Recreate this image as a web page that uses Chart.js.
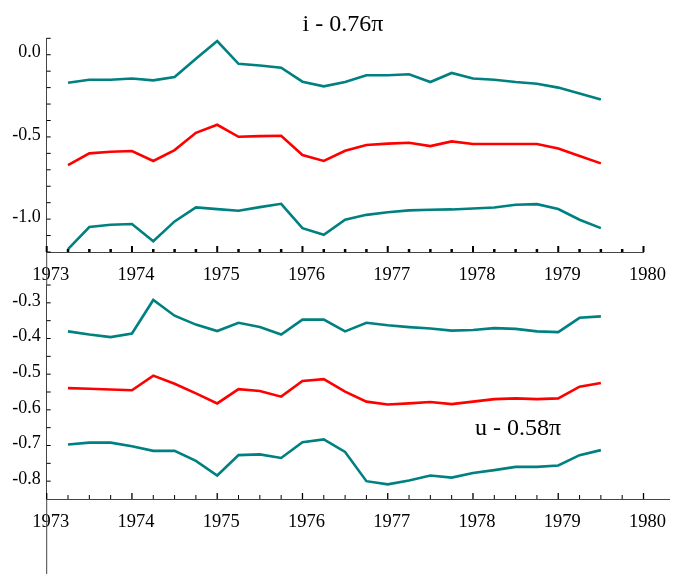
<!DOCTYPE html>
<html>
<head>
<meta charset="utf-8">
<script src="https://cdn.jsdelivr.net/npm/chart.js@4"></script>
<style>
body{margin:0;background:#fff;}
#wrap{position:relative;width:674px;height:574px;}
canvas{position:absolute;left:0;top:0;}
</style>
</head>
<body>
<div id="wrap">
<canvas id="topChart" width="674" height="574"></canvas>
<canvas id="bottomChart" width="674" height="574"></canvas>
</div>
<script>
// quarterly dates
const quarters = [1973.25, 1973.5, 1973.75, 1974, 1974.25, 1974.5, 1974.75, 1975, 1975.25, 1975.5, 1975.75,
    1976, 1976.25, 1976.5, 1976.75, 1977, 1977.25, 1977.5, 1977.75, 1978, 1978.25, 1978.5, 1978.75,
    1979, 1979.25, 1979.5];

// i - 0.76 pi panel
const iUpper = [-0.170, -0.152, -0.152, -0.145, -0.156, -0.135, -0.024, 0.083, -0.055, -0.065, -0.079,
    -0.164, -0.192, -0.166, -0.125, -0.125, -0.119, -0.166, -0.111, -0.145, -0.152, -0.166, -0.176,
    -0.200, -0.236, -0.273];
const iMid = [-0.671, -0.600, -0.590, -0.586, -0.646, -0.580, -0.475, -0.426, -0.499, -0.495, -0.493,
    -0.610, -0.646, -0.584, -0.549, -0.541, -0.535, -0.556, -0.527, -0.543, -0.543, -0.543, -0.543,
    -0.570, -0.616, -0.661];
const iLower = [-1.182, -1.048, -1.034, -1.030, -1.135, -1.014, -0.929, -0.939, -0.949, -0.927, -0.907,
    -1.055, -1.095, -1.004, -0.974, -0.958, -0.947, -0.943, -0.941, -0.935, -0.929, -0.913, -0.909,
    -0.939, -1.004, -1.055];

// u - 0.58 pi panel
const uUpper = [-0.380, -0.389, -0.396, -0.386, -0.292, -0.336, -0.361, -0.379, -0.356, -0.368, -0.389,
    -0.347, -0.347, -0.380, -0.356, -0.363, -0.368, -0.372, -0.378, -0.376, -0.371, -0.373, -0.380,
    -0.382, -0.342, -0.338];
const uMid = [-0.539, -0.541, -0.543, -0.545, -0.504, -0.527, -0.554, -0.582, -0.542, -0.547, -0.563,
    -0.519, -0.514, -0.549, -0.577, -0.585, -0.582, -0.578, -0.584, -0.577, -0.570, -0.568, -0.570,
    -0.568, -0.535, -0.525];
const uLower = [-0.697, -0.692, -0.692, -0.702, -0.715, -0.715, -0.743, -0.784, -0.727, -0.725, -0.735,
    -0.691, -0.683, -0.718, -0.800, -0.809, -0.798, -0.784, -0.790, -0.777, -0.769, -0.760, -0.760,
    -0.756, -0.727, -0.713];

const yearTicks = [1973, 1974, 1975, 1976, 1977, 1978, 1979, 1980];
const iTicks = [-1.0, -0.5, 0.0];
const uTicks = [-0.8, -0.7, -0.6, -0.5, -0.4, -0.3];

const teal = '#008080';
const red = '#ff0000';
const serif = 'Liberation Serif';

function series(values, color){
    return {
        data: values.map((v, i) => ({x: quarters[i], y: v})),
        borderColor: color,
        borderWidth: 2.6,
        pointRadius: 0,
        tension: 0,
        fill: false
    };
}

// ticks pointing into the plot, plus the long vertical axis line and the panel label
const innerTicks = {
    id: 'innerTicks',
    afterDraw(chart, args, opts){
        const ctx = chart.ctx;
        const xs = chart.scales.x, ys = chart.scales.y;
        const a = chart.chartArea;
        ctx.save();
        ctx.strokeStyle = '#000';
        for(let k = 0; k <= 28; k++){
            const q = 1973 + k * 0.25;
            const px = xs.getPixelForValue(q);
            const major = k % 4 == 0;
            ctx.lineWidth = major ? opts.xMajorWidth : opts.xMinorWidth;
            ctx.beginPath();
            ctx.moveTo(px, a.bottom);
            ctx.lineTo(px, a.bottom - (major ? opts.xMajorLen : opts.xMinorLen));
            ctx.stroke();
        }
        ctx.lineWidth = 1;
        for(let k = opts.yFrom; k <= opts.yTo; k++){
            const py = ys.getPixelForValue(k / opts.yDiv);
            ctx.beginPath();
            ctx.moveTo(a.left, py);
            ctx.lineTo(a.left + 4, py);
            ctx.stroke();
        }
        // y axis line carried on below the x axis
        ctx.strokeStyle = '#444';
        ctx.beginPath();
        ctx.moveTo(a.left, a.bottom);
        ctx.lineTo(a.left, opts.toCanvasEnd ? chart.height : xs.bottom);
        ctx.stroke();

        ctx.fillStyle = '#000';
        ctx.font = '24px "' + serif + '"';
        ctx.textAlign = 'center';
        ctx.textBaseline = 'middle';
        ctx.fillText(opts.label, opts.labelX, opts.labelY);
        ctx.restore();
    }
};

function makeChart(id, datasets, xMax, yMin, yMax, yTickList, padding, xHeight, tickOpts){
    return new Chart(document.getElementById(id), {
        type: 'line',
        data: {datasets: datasets},
        plugins: [innerTicks],
        options: {
            responsive: false,
            animation: false,
            layout: {padding: padding},
            plugins: {
                legend: {display: false},
                tooltip: {enabled: false},
                innerTicks: tickOpts
            },
            scales: {
                x: {
                    type: 'linear',
                    min: 1973,
                    max: xMax,
                    afterBuildTicks: s => { s.ticks = yearTicks.map(v => ({value: v})); },
                    afterFit: s => { s.height = xHeight; },
                    grid: {drawOnChartArea: false, drawTicks: false},
                    border: {color: '#444', width: 1},
                    ticks: {
                        callback: v => String(v),
                        font: {family: serif, size: 18.5},
                        color: '#000',
                        padding: 12,
                        labelOffset: 4,
                        maxRotation: 0,
                        autoSkip: false
                    }
                },
                y: {
                    min: yMin,
                    max: yMax,
                    afterBuildTicks: s => { s.ticks = yTickList.map(v => ({value: v})); },
                    afterFit: s => { s.width = 46.7; },
                    grid: {drawOnChartArea: false, drawTicks: false},
                    border: {color: '#444', width: 1},
                    ticks: {
                        callback: v => v.toFixed(1),
                        font: {family: serif, size: 18},
                        color: '#000',
                        padding: 6,
                        labelOffset: -2
                    }
                }
            }
        }
    });
}

makeChart('topChart',
    [series(iUpper, teal), series(iMid, red), series(iLower, teal)],
    1980, -1.2, 0.1, iTicks,
    {left: 0, top: 38.3, right: 27, bottom: 289}, 33,
    {xMajorLen: 6, xMinorLen: 3, xMajorWidth: 2, xMinorWidth: 2.5,
     yFrom: -12, yTo: 1, yDiv: 10, toCanvasEnd: false,
     label: 'i - 0.76\u03C0', labelX: 343, labelY: 25});

makeChart('bottomChart',
    [series(uUpper, teal), series(uMid, red), series(uLower, teal)],
    1980.31, -0.85, -0.25, uTicks,
    {left: 0, top: 285, right: 0, bottom: 0}, 75,
    {xMajorLen: 6, xMinorLen: 4, xMajorWidth: 1.3, xMinorWidth: 1,
     yFrom: -16, yTo: -5, yDiv: 20, toCanvasEnd: true,
     label: 'u - 0.58\u03C0', labelX: 518, labelY: 429});
</script>
</body>
</html>
